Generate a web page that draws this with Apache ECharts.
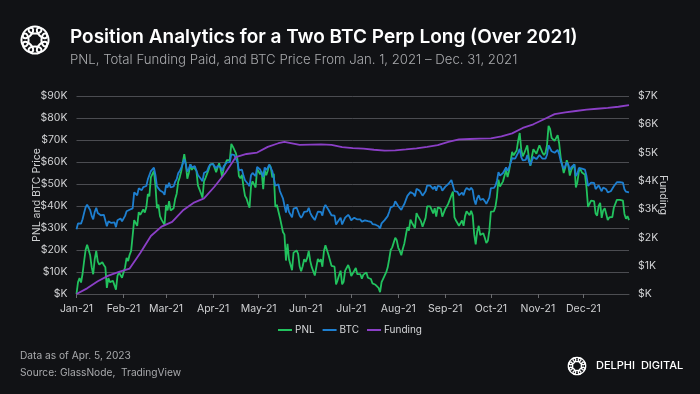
<!DOCTYPE html>
<html>
<head>
<meta charset="utf-8">
<script src="https://cdn.jsdelivr.net/npm/echarts@6/dist/echarts.min.js"></script>
<style>
html,body{margin:0;padding:0;background:#111215;}
#chart{width:700px;height:394px;}
</style>
</head>
<body>
<div id="chart"></div>
<script>
// ---- Data (values in thousands of USD), one value per day, Jan 1 – Dec 31, 2021 ----
const monthLabels = ['Jan-21','Feb-21','Mar-21','Apr-21','May-21','Jun-21','Jul-21','Aug-21','Sep-21','Oct-21','Nov-21','Dec-21'];
// day-of-year index (Jan 1 = 0) of the first day of each month
const monthStartDays = [0,31,59,90,120,151,181,212,243,273,304,334];

const btcPrice = [
// Jan
29.4,32.1,33.0,32.0,34.0,36.8,39.4,40.6,40.2,38.2,35.5,33.9,37.3,39.2,36.8,36.1,35.8,36.6,36.0,35.5,30.8,33.0,32.1,32.3,32.4,32.6,30.4,33.5,34.3,34.3,33.1,
// Feb
33.5,35.5,37.6,36.9,38.3,39.2,38.9,46.2,46.5,44.9,48.0,47.4,47.2,48.6,47.9,49.1,52.1,51.6,55.9,55.9,57.4,54.1,48.9,49.7,47.1,46.3,46.2,45.1,
// Mar
49.6,48.4,50.5,48.4,48.8,48.9,51.0,52.2,54.9,55.9,57.3,57.2,61.2,59.0,55.6,56.9,58.9,57.6,58.3,58.1,57.4,54.1,54.3,52.3,51.3,55.0,55.8,55.8,57.6,58.8,58.9,
// Apr
59.0,59.1,57.1,58.2,59.1,57.6,56.0,58.0,58.1,59.8,60.0,59.9,63.5,62.9,63.1,61.4,60.1,56.2,55.7,56.5,53.8,51.7,51.1,50.0,49.0,54.0,55.0,54.9,53.6,57.8,
// May
57.8,56.6,57.2,53.2,57.5,56.4,57.4,58.8,58.2,55.9,56.7,49.2,49.7,49.9,46.8,46.4,43.5,42.9,37.0,40.8,37.3,37.5,34.8,38.8,38.4,39.3,38.5,35.7,34.6,35.7,37.3,
// Jun
36.7,37.6,39.2,36.9,35.5,35.8,33.6,33.4,37.4,36.7,37.3,35.6,39.1,40.5,40.2,38.3,38.1,35.8,35.5,35.6,31.6,32.5,33.7,34.7,31.6,32.2,34.7,34.5,36.0,35.0,
// Jul
33.5,33.8,34.7,35.3,33.9,34.2,33.9,32.9,33.8,33.5,34.3,33.1,32.7,32.8,31.8,31.4,31.5,31.8,30.8,29.8,32.1,32.3,33.6,34.3,35.4,37.3,39.4,40.0,40.0,42.2,41.6,
// Aug
39.9,39.2,38.2,39.7,40.9,42.8,44.6,43.8,46.3,45.6,45.6,44.4,47.8,47.1,47.0,45.9,44.7,44.8,46.7,49.3,48.9,49.3,49.5,47.7,48.9,47.0,49.1,48.9,48.8,47.0,47.2,
// Sep
48.8,49.3,50.0,49.9,51.8,52.7,46.8,46.1,46.4,44.9,45.2,46.1,44.9,47.1,48.2,47.8,47.3,48.3,47.3,43.0,40.7,43.6,44.9,42.8,42.7,43.2,42.2,41.0,41.5,43.8,
// Oct
48.1,47.7,48.2,49.2,51.5,55.4,53.8,53.9,55.0,54.7,57.5,56.0,57.4,57.3,61.7,60.9,61.5,62.0,64.3,66.0,62.2,60.7,61.4,61.0,63.2,60.4,58.5,60.6,62.3,61.9,61.3,
// Nov
61.0,63.2,62.9,61.5,61.0,61.5,63.3,67.6,66.9,64.9,64.9,64.2,64.5,65.5,63.6,60.4,60.4,56.9,58.1,59.8,58.7,56.3,57.6,57.2,58.9,53.6,54.8,57.3,57.8,57.0,
// Dec
57.2,56.5,53.6,49.2,49.4,50.6,50.6,50.5,47.7,47.2,49.4,50.1,46.7,48.4,48.9,47.6,46.2,46.8,46.7,46.9,49.0,48.6,50.8,50.4,50.8,50.6,50.6,47.6,46.5,47.1,46.2
];

const pnl = [
// Jan
0.0,5.4,7.2,5.2,9.2,14.8,20.0,22.4,21.6,17.6,12.2,9.0,15.8,19.6,14.8,13.4,12.8,14.4,13.2,12.2,2.8,7.2,5.4,5.8,6.0,6.4,2.0,8.2,9.8,9.8,7.4,
// Feb
8.2,12.2,16.4,15.0,17.8,19.6,19.0,33.6,34.2,31.0,37.2,36.0,35.6,38.4,37.0,39.4,45.4,44.4,53.0,53.0,56.0,49.4,39.0,40.6,35.4,33.8,33.6,31.4,
// Mar
40.4,38.0,42.2,38.0,38.8,39.0,43.2,45.6,51.0,53.0,55.8,55.6,63.6,59.2,52.4,55.0,59.0,56.4,57.8,57.4,56.0,49.4,49.8,45.8,43.8,51.2,52.8,52.8,56.4,58.8,59.0,
// Apr
59.2,59.4,55.4,57.6,59.4,56.4,53.2,57.2,57.4,60.8,61.2,61.0,68.2,67.0,67.4,64.0,61.4,53.6,52.6,54.2,48.8,44.6,43.4,41.2,39.2,49.2,51.2,51.0,48.4,56.8,
// May
56.8,54.4,55.6,47.6,56.2,54.0,56.0,58.8,57.6,53.0,54.6,39.6,40.6,41.0,34.8,34.0,28.2,27.0,15.2,22.8,15.8,16.2,10.8,18.8,18.0,19.8,18.2,12.6,10.4,12.6,15.8,
// Jun
14.6,16.4,19.6,15.0,12.2,12.8,8.4,8.0,16.0,14.6,15.8,12.4,19.4,22.2,21.6,17.8,17.4,12.8,12.2,12.4,4.4,6.2,8.6,10.6,4.4,5.6,10.6,10.2,13.2,11.2,
// Jul
8.2,8.8,10.6,11.8,9.0,9.6,9.0,7.0,8.8,8.2,9.8,7.4,6.6,6.8,4.8,4.0,4.2,4.8,2.8,0.8,5.4,5.8,8.4,9.8,12.0,15.8,20.0,21.2,21.2,25.6,24.4,
// Aug
21.0,19.6,17.6,20.6,23.0,26.8,30.4,28.8,33.8,32.4,32.4,30.0,36.8,35.4,35.2,33.0,30.6,30.8,34.6,39.8,39.0,39.8,40.2,36.6,39.0,35.2,39.4,39.0,38.8,35.2,35.6,
// Sep
38.8,39.8,41.2,41.0,44.8,46.6,34.8,33.4,34.0,31.0,31.6,33.4,31.0,35.4,37.6,36.8,35.8,37.8,35.8,27.2,22.6,28.4,31.0,26.8,26.6,27.6,25.6,23.2,24.2,28.8,
// Oct
37.4,36.6,37.6,39.6,44.2,52.0,48.8,49.0,51.2,50.6,56.2,53.2,56.0,55.8,64.6,63.0,64.2,65.2,69.8,73.2,65.6,62.6,64.0,63.2,67.6,62.0,58.2,62.4,65.8,65.0,63.8,
// Nov
63.2,67.6,67.0,64.2,63.2,64.2,67.8,76.4,75.0,71.0,71.0,69.6,70.2,72.2,68.4,62.0,62.0,55.0,57.4,60.8,58.6,53.8,56.4,55.6,59.0,48.4,50.8,55.8,56.8,55.2,
// Dec
55.6,54.2,48.4,39.6,40.0,42.4,42.4,42.2,36.6,35.6,40.0,41.4,34.6,38.0,39.0,36.4,33.6,34.8,34.6,35.0,39.2,38.4,42.8,42.0,42.8,42.4,42.4,36.4,34.2,35.4,33.6
];

// Cumulative funding paid (thousands USD), sampled about weekly: day-of-year index and value
const fundingDays = [0,7,14,21,28,35,42,49,56,63,70,77,84,91,98,105,112,119,126,133,137,147,154,161,168,175,182,189,196,203,210,217,224,231,238,245,252,259,266,273,280,287,294,301,308,315,322,329,336,343,350,357,364];
const funding = [0,0.2,0.45,0.65,0.78,0.9,1.45,2.05,2.38,2.55,2.95,3.22,3.38,3.8,4.28,4.84,4.95,5.0,5.2,5.33,5.38,5.27,5.28,5.29,5.27,5.19,5.16,5.14,5.1,5.07,5.08,5.11,5.15,5.2,5.26,5.38,5.47,5.48,5.49,5.5,5.57,5.68,5.87,6.0,6.18,6.36,6.42,6.47,6.52,6.55,6.58,6.62,6.68];

// ---- Build series from the arrays (x = day-of-year index) ----
const btcSeries = btcPrice.map((v, i) => [i, v]);
const pnlSeries = pnl.map((v, i) => [i, v]);
const fundingSeries = funding.map((v, i) => [fundingDays[i], v]);

const kFmt = v => v === 0 ? '$K' : '$' + v + 'K';
const FONT = 'Inter, Roboto, "Noto Sans", sans-serif';
const chart = echarts.init(document.getElementById('chart'), null, {renderer: 'canvas'});

function ringLogo(cx, cy, R, r, n, lw) {
  const els = [];
  for (let k = 0; k < n; k++) {
    const a = (k / n) * Math.PI * 2;
    els.push({
      type: 'ellipse',
      x: cx + R*Math.cos(a), y: cy + R*Math.sin(a),
      rotation: -(a + Math.PI/2),
      shape: {cx: 0, cy: 0, rx: r, ry: r*0.55},
      style: {fill: null, stroke: '#ffffff', lineWidth: lw}
    });
  }
  return els;
}

const option = {
  backgroundColor: '#111215',
  animation: false,
  textStyle: {fontFamily: FONT},
  graphic: [
    {type: 'text', left: 70, top: 28, style: {text: 'Position Analytics for a Two BTC Perp Long (Over 2021)', fill: '#ffffff', font: '600 19px ' + FONT}},
    {type: 'text', left: 70, top: 54, style: {text: 'PNL, Total Funding Paid, and BTC Price From Jan. 1, 2021 \u2013 Dec. 31, 2021', fill: '#a9aaad', font: '300 13.2px ' + FONT}},
    {type: 'text', left: 20, top: 351, style: {text: 'Data as of Apr. 5, 2023', fill: '#a9aaad', font: '10.2px ' + FONT}},
    {type: 'text', left: 20, top: 368, style: {text: 'Source: GlassNode,  TradingView', fill: '#a9aaad', font: '10.2px ' + FONT}},
    {type: 'text', left: 596, top: 360, style: {text: 'DELPHI  DIGITAL', fill: '#ffffff', font: '500 11px ' + FONT}},
    {type: 'group', children: ringLogo(35, 40, 10, 6.5, 8, 2)},
    {type: 'group', children: ringLogo(577, 366, 6.5, 4, 8, 1.3)}
  ],
  legend: {
    top: 320,
    left: 'center',
    icon: 'rect',
    itemWidth: 14,
    itemHeight: 2,
    itemGap: 8,
    textStyle: {color: '#d8d9db', fontSize: 10, fontFamily: FONT, padding: [0, 0, 0, -2]},
    data: ['PNL', 'BTC', 'Funding']
  },
  grid: {left: 76.5, right: 71, top: 96, bottom: 100},
  xAxis: {
    type: 'value',
    min: 0,
    max: 364,
    axisLine: {show: true, onZero: false, lineStyle: {color: '#4d4e52', width: 1}},
    axisTick: {show: true, customValues: monthStartDays, length: 4, lineStyle: {color: '#6a6b6e'}},
    axisLabel: {
      customValues: monthStartDays,
      color: '#d0d1d3', fontSize: 10.5, margin: 9, fontFamily: FONT,
      formatter: v => monthLabels[monthStartDays.indexOf(v)]
    },
    splitLine: {show: false}
  },
  yAxis: [
    {
      type: 'value', min: 0, max: 90, interval: 10,
      name: 'PNL and BTC Price', nameLocation: 'middle', nameGap: 34, nameRotate: 90,
      nameMoveOverlap: false,
      nameTextStyle: {color: '#d0d1d3', fontSize: 10.5, fontFamily: FONT},
      axisLabel: {color: '#d0d1d3', fontSize: 10.5, margin: 9, formatter: kFmt, fontFamily: FONT},
      axisLine: {show: false}, axisTick: {show: false},
      splitLine: {lineStyle: {color: '#4b4c51', width: 1}}
    },
    {
      type: 'value', min: 0, max: 7, interval: 1,
      name: 'Funding', nameLocation: 'middle', nameGap: 29, nameRotate: -90,
      nameMoveOverlap: false,
      nameTextStyle: {color: '#d0d1d3', fontSize: 10.5, fontFamily: FONT},
      axisLabel: {color: '#d0d1d3', fontSize: 10.5, margin: 9, formatter: kFmt, fontFamily: FONT},
      axisLine: {show: false}, axisTick: {show: false},
      splitLine: {show: false}
    }
  ],
  series: [
    {name: 'PNL', type: 'line', yAxisIndex: 0, data: pnlSeries, showSymbol: false, symbol: 'none',
     lineStyle: {color: '#22c25e', width: 1.8}, itemStyle: {color: '#22c25e'}},
    {name: 'BTC', type: 'line', yAxisIndex: 0, data: btcSeries, showSymbol: false, symbol: 'none',
     lineStyle: {color: '#1e7fd0', width: 1.8}, itemStyle: {color: '#1e7fd0'}},
    {name: 'Funding', type: 'line', yAxisIndex: 1, data: fundingSeries, showSymbol: false, symbol: 'none',
     lineStyle: {color: '#8b3fc6', width: 1.8}, itemStyle: {color: '#8b3fc6'}}
  ]
};
chart.setOption(option);
</script>
</body>
</html>
